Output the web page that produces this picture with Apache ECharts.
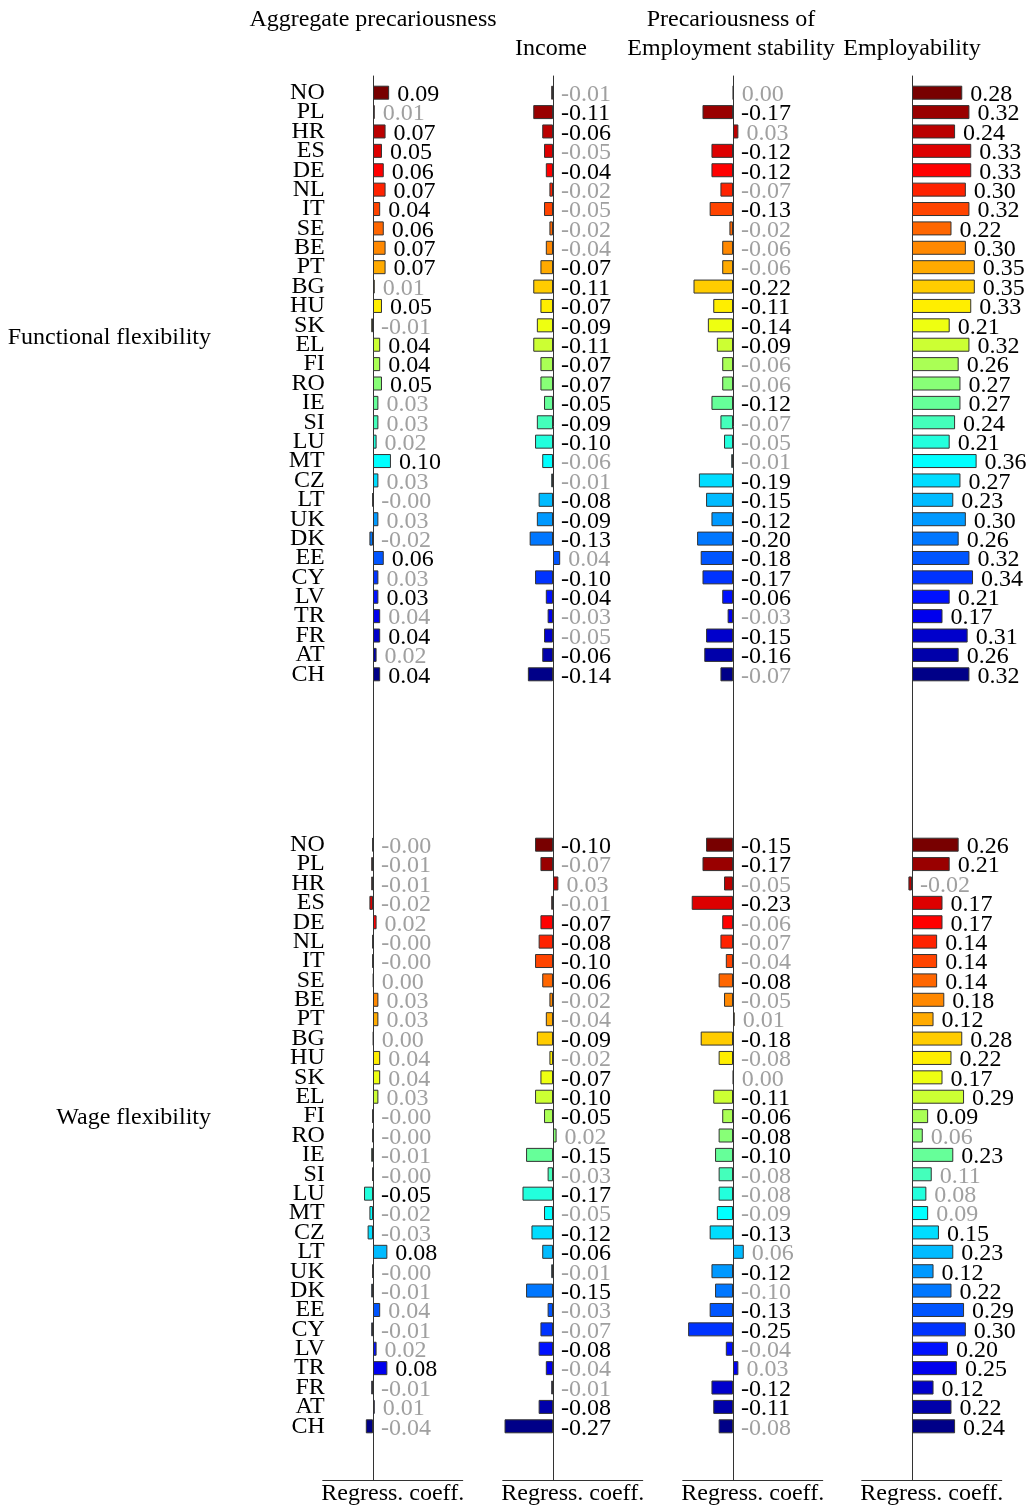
<!DOCTYPE html>
<html>
<head>
<meta charset="utf-8">
<script src="https://cdn.jsdelivr.net/npm/echarts@6/dist/echarts.min.js"></script>
<style>
  html, body { margin: 0; padding: 0; background: #fff; }
  #chart { width: 1031px; height: 1508px; }
</style>
</head>
<body>
<div id="chart"></div>
<script>
const countries = ['NO', 'PL', 'HR', 'ES', 'DE', 'NL', 'IT', 'SE', 'BE', 'PT', 'BG', 'HU', 'SK', 'EL', 'FI', 'RO',
  'IE', 'SI', 'LU', 'MT', 'CZ', 'LT', 'UK', 'DK', 'EE', 'CY', 'LV', 'TR', 'FR', 'AT', 'CH']

// Functional flexibility (1 = significant, printed black; 0 = grey)
const funcAggregate = [0.09, 0.01, 0.07, 0.05, 0.06, 0.07, 0.04, 0.06, 0.07, 0.07, 0.01, 0.05, -0.01, 0.04, 0.04, 0.05,
  0.03, 0.03, 0.02, 0.10, 0.03, -0.003, 0.03, -0.02, 0.06, 0.03, 0.03, 0.04, 0.04, 0.02, 0.04]
const funcAggregateSig = [1, 0, 1, 1, 1, 1, 1, 1, 1, 1, 0, 1, 0, 1, 1, 1, 0, 0, 0, 1, 0, 0, 0, 0, 1, 0, 1, 0, 1, 0, 1]

const funcIncome = [-0.01, -0.11, -0.06, -0.05, -0.04, -0.02, -0.05, -0.02, -0.04, -0.07, -0.11, -0.07, -0.09, -0.11, -0.07, -0.07,
  -0.05, -0.09, -0.10, -0.06, -0.01, -0.08, -0.09, -0.13, 0.04, -0.10, -0.04, -0.03, -0.05, -0.06, -0.14]
const funcIncomeSig = [0, 1, 1, 0, 1, 0, 0, 0, 0, 1, 1, 1, 1, 1, 1, 1, 1, 1, 1, 0, 0, 1, 1, 1, 0, 1, 1, 0, 0, 1, 1]

const funcStability = [0.002, -0.17, 0.03, -0.12, -0.12, -0.07, -0.13, -0.02, -0.06, -0.06, -0.22, -0.11, -0.14, -0.09, -0.06, -0.06,
  -0.12, -0.07, -0.05, -0.01, -0.19, -0.15, -0.12, -0.20, -0.18, -0.17, -0.06, -0.03, -0.15, -0.16, -0.07]
const funcStabilitySig = [0, 1, 0, 1, 1, 0, 1, 0, 0, 0, 1, 1, 1, 1, 0, 0, 1, 0, 0, 0, 1, 1, 1, 1, 1, 1, 1, 0, 1, 1, 0]

const funcEmployability = [0.28, 0.32, 0.24, 0.33, 0.33, 0.30, 0.32, 0.22, 0.30, 0.35, 0.35, 0.33, 0.21, 0.32, 0.26, 0.27,
  0.27, 0.24, 0.21, 0.36, 0.27, 0.23, 0.30, 0.26, 0.32, 0.34, 0.21, 0.17, 0.31, 0.26, 0.32]
const funcEmployabilitySig = [1, 1, 1, 1, 1, 1, 1, 1, 1, 1, 1, 1, 1, 1, 1, 1, 1, 1, 1, 1, 1, 1, 1, 1, 1, 1, 1, 1, 1, 1, 1]

// Wage flexibility
const wageAggregate = [-0.003, -0.01, -0.01, -0.02, 0.02, -0.003, -0.003, 0.003, 0.03, 0.03, 0.003, 0.04, 0.04, 0.03, -0.003, -0.003,
  -0.01, -0.003, -0.05, -0.02, -0.03, 0.08, -0.003, -0.01, 0.04, -0.01, 0.02, 0.08, -0.01, 0.01, -0.04]
const wageAggregateSig = [0, 0, 0, 0, 0, 0, 0, 0, 0, 0, 0, 0, 0, 0, 0, 0, 0, 0, 1, 0, 0, 1, 0, 0, 0, 0, 0, 1, 0, 0, 0]

const wageIncome = [-0.10, -0.07, 0.03, -0.01, -0.07, -0.08, -0.10, -0.06, -0.02, -0.04, -0.09, -0.02, -0.07, -0.10, -0.05, 0.02,
  -0.15, -0.03, -0.17, -0.05, -0.12, -0.06, -0.01, -0.15, -0.03, -0.07, -0.08, -0.04, -0.01, -0.08, -0.27]
const wageIncomeSig = [1, 0, 0, 0, 1, 1, 1, 1, 0, 0, 1, 0, 1, 1, 1, 0, 1, 0, 1, 0, 1, 1, 0, 1, 0, 0, 1, 0, 0, 1, 1]

const wageStability = [-0.15, -0.17, -0.05, -0.23, -0.06, -0.07, -0.04, -0.08, -0.05, 0.01, -0.18, -0.08, 0.002, -0.11, -0.06, -0.08,
  -0.10, -0.08, -0.08, -0.09, -0.13, 0.06, -0.12, -0.10, -0.13, -0.25, -0.04, 0.03, -0.12, -0.11, -0.08]
const wageStabilitySig = [1, 1, 0, 1, 0, 0, 0, 1, 0, 0, 1, 0, 0, 1, 1, 1, 1, 0, 0, 0, 1, 0, 1, 0, 1, 1, 0, 0, 1, 1, 0]

const wageEmployability = [0.26, 0.21, -0.02, 0.17, 0.17, 0.14, 0.14, 0.14, 0.18, 0.12, 0.28, 0.22, 0.17, 0.29, 0.09, 0.06,
  0.23, 0.11, 0.08, 0.09, 0.15, 0.23, 0.12, 0.22, 0.29, 0.30, 0.20, 0.25, 0.12, 0.22, 0.24]
const wageEmployabilitySig = [1, 1, 0, 1, 1, 1, 1, 1, 1, 1, 1, 1, 1, 1, 1, 0, 1, 0, 0, 0, 1, 1, 1, 1, 1, 1, 1, 1, 1, 1, 1]

// jet-like colours, one per country
const palette = ['#780000', '#990000', '#bb0000', '#dd0000', '#ff0000', '#ff2200', '#ff4400', '#ff6600', '#ff8800', '#ffaa00',
  '#ffcc00', '#ffee00', '#eeff11', '#ccff33', '#aaff55', '#88ff77', '#66ff99', '#44ffbb', '#22ffdd', '#00ffff',
  '#00ddff', '#00bbff', '#0099ff', '#0077ff', '#0055ff', '#0033ff', '#0011ff', '#0000ee', '#0000cc', '#0000aa', '#000088']

const FONT = '"Liberation Serif", "Times New Roman", serif'
const FONT_SIZE = 24
const X_MIN = -0.28
const X_MAX = 0.5
const colZero = [373, 553, 733, 912]
const PX_PER_UNIT = 179.5
const gridWidth = (X_MAX - X_MIN) * PX_PER_UNIT

const panels = [
  [funcAggregate, funcAggregateSig, funcIncome, funcIncomeSig, funcStability, funcStabilitySig, funcEmployability, funcEmployabilitySig],
  [wageAggregate, wageAggregateSig, wageIncome, wageIncomeSig, wageStability, wageStabilitySig, wageEmployability, wageEmployabilitySig]
]
const rowTop = [83, 835]
const rowHeight = 601

const grid = []
const xAxis = []
const yAxis = []
const series = []

panels.forEach((row, r) => {
  for (let c = 0; c < 4; c++) {
    const values = row[c * 2]
    const sig = row[c * 2 + 1]
    const idx = grid.length
    grid.push({
      left: colZero[c] + X_MIN * PX_PER_UNIT,
      top: rowTop[r],
      width: gridWidth,
      height: rowHeight,
      outerBoundsMode: 'none',
      containLabel: false
    })
    xAxis.push({
      gridIndex: idx, type: 'value', min: X_MIN, max: X_MAX, show: false,
      splitLine: { show: false }
    })
    yAxis.push({
      gridIndex: idx, type: 'category', data: countries, inverse: true,
      axisLine: { show: false, onZero: false },
      axisTick: { show: false },
      splitLine: { show: false },
      axisLabel: {
        show: c === 0, interval: 0, margin: -2,
        fontFamily: FONT, fontSize: FONT_SIZE, color: '#000'
      }
    })
    series.push({
      type: 'bar',
      xAxisIndex: idx,
      yAxisIndex: idx,
      barWidth: 14,
      silent: true,
      data: values.map((v, i) => ({
        value: v,
        itemStyle: { color: palette[i] },
        label: { color: sig[i] ? '#000' : '#a0a0a0' }
      })),
      itemStyle: { borderColor: '#333', borderWidth: 1 },
      label: {
        show: true,
        position: 'right',
        distance: 8,
        offset: [0, 2],
        fontFamily: FONT,
        fontSize: FONT_SIZE,
        formatter: p => p.value.toFixed(2)
      }
    })
  }
})

// full-height frame per column: zero line and bottom axis
for (let c = 0; c < 4; c++) {
  const idx = grid.length
  grid.push({
    left: colZero[c] + X_MIN * PX_PER_UNIT,
    top: 76,
    width: gridWidth,
    height: 1404,
    outerBoundsMode: 'none',
    containLabel: false
  })
  xAxis.push({
    gridIndex: idx, type: 'value', min: X_MIN, max: X_MAX,
    axisLine: { show: true, lineStyle: { color: '#333', width: 1 } },
    axisTick: { show: false },
    axisLabel: { show: false },
    splitLine: { show: false },
    name: 'Regress. coeff.',
    nameLocation: 'middle',
    nameGap: 2,
    nameTextStyle: { fontFamily: FONT, fontSize: FONT_SIZE, color: '#000', verticalAlign: 'top' }
  })
  yAxis.push({
    gridIndex: idx, type: 'category', data: [''],
    axisLine: { show: true, onZero: true, lineStyle: { color: '#333', width: 1 } },
    axisTick: { show: false },
    axisLabel: { show: false },
    splitLine: { show: false }
  })
}

const headers = [
  { text: 'Aggregate precariousness', x: 373, y: 20, align: 'center' },
  { text: 'Precariousness of', x: 731, y: 20, align: 'center' },
  { text: 'Income', x: 551, y: 49, align: 'center' },
  { text: 'Employment stability', x: 731, y: 49, align: 'center' },
  { text: 'Employability', x: 912, y: 49, align: 'center' },
  { text: 'Functional flexibility', x: 211, y: 338, align: 'right' },
  { text: 'Wage flexibility', x: 211, y: 1118, align: 'right' }
]

const chart = echarts.init(document.getElementById('chart'), null, { renderer: 'canvas' })
chart.setOption({
  backgroundColor: '#fff',
  animation: false,
  grid: grid,
  xAxis: xAxis,
  yAxis: yAxis,
  series: series,
  graphic: headers.map(h => ({
    type: 'text',
    style: {
      text: h.text, x: h.x, y: h.y,
      textAlign: h.align, textVerticalAlign: 'middle',
      align: h.align, verticalAlign: 'middle',
      font: FONT_SIZE + 'px ' + FONT, fill: '#000'
    }
  }))
})
</script>
</body>
</html>
